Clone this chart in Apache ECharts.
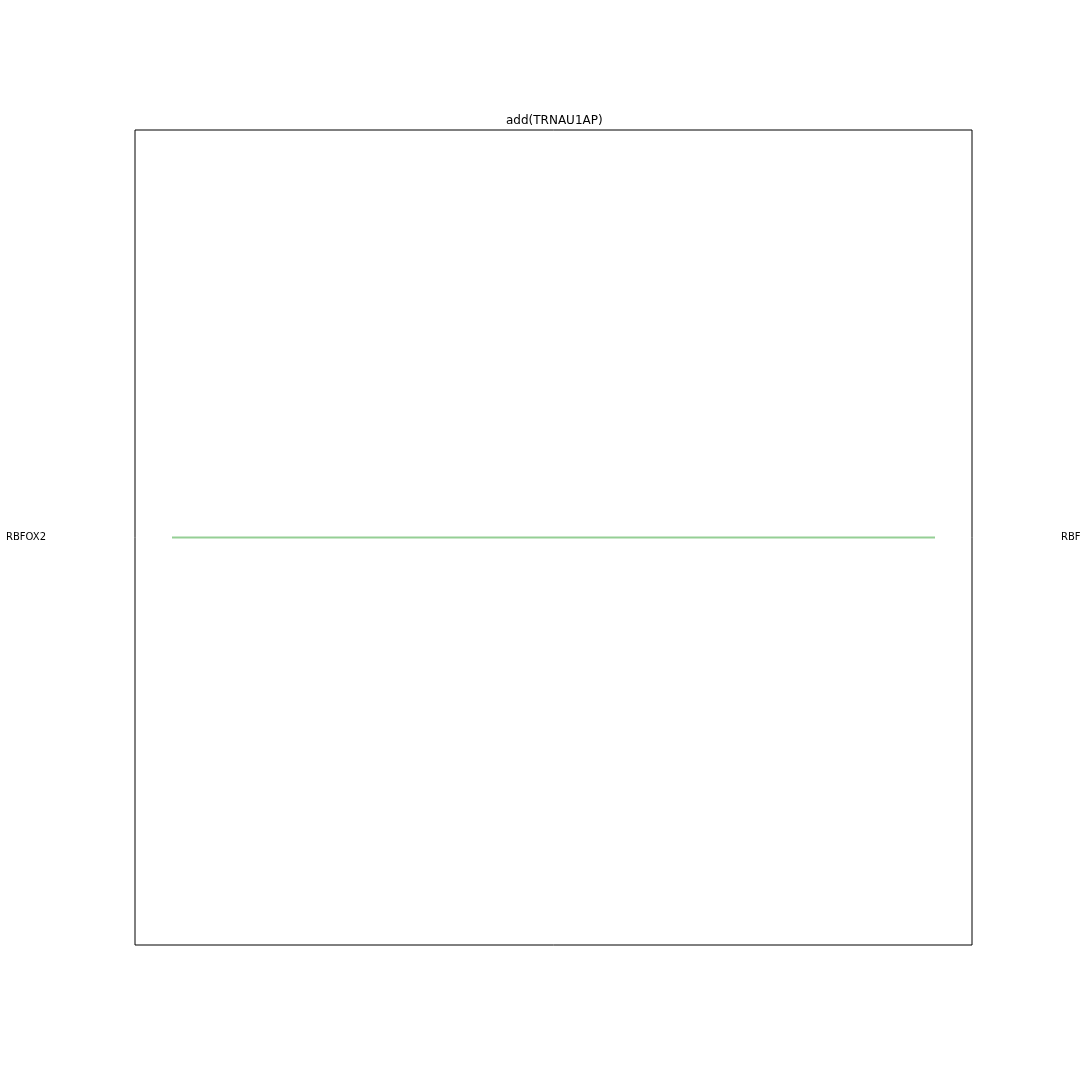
<!DOCTYPE html>
<html>
<head>
<meta charset="utf-8">
<script src="https://cdn.jsdelivr.net/npm/echarts@6/dist/echarts.min.js"></script>
<style>html,body{margin:0;padding:0;background:#fff}#c{width:1080px;height:1080px}</style>
</head>
<body>
<div id="c"></div>
<script>
const titleText = 'add(TRNAU1AP)';
const categories = ['RBFOX2'];
const lineX = [0, 1];
const lineY = ['RBFOX2', 'RBFOX2'];

const chart = echarts.init(document.getElementById('c'), null, {renderer: 'canvas'});
const font = 'DejaVu Sans';
chart.setOption({
  animation: false,
  backgroundColor: '#ffffff',
  title: {
    text: titleText,
    left: 501,
    top: 110,
    textStyle: {fontFamily: font, fontSize: 12, fontWeight: 'normal', color: '#000'}
  },
  grid: {left: 135, top: 130, width: 837, height: 815, show: true, borderColor: '#000', borderWidth: 1, backgroundColor: 'transparent', containLabel: false, outerBoundsMode: 'none'},
  xAxis: {
    type: 'value', min: -0.0485, max: 1.0485,
    axisLine: {show: false}, axisTick: {show: false}, axisLabel: {show: false}, splitLine: {show: false}
  },
  yAxis: [
    {
      type: 'category', data: categories, position: 'left',
      axisLine: {show: false}, axisTick: {show: false}, splitLine: {show: false},
      axisLabel: {margin: 89, fontFamily: font, fontSize: 10, color: '#000'}
    },
    {
      type: 'category', data: categories, position: 'right',
      axisLine: {show: false}, axisTick: {show: false}, splitLine: {show: false},
      axisLabel: {margin: 89, fontFamily: font, fontSize: 10, color: '#000'}
    }
  ],
  series: [{
    type: 'line',
    yAxisIndex: 0,
    data: lineX.map((x, i) => [x, lineY[i]]),
    showSymbol: false,
    symbol: 'none',
    lineStyle: {color: '#95cf95', width: 2}
  }]
});
</script>
</body>
</html>
